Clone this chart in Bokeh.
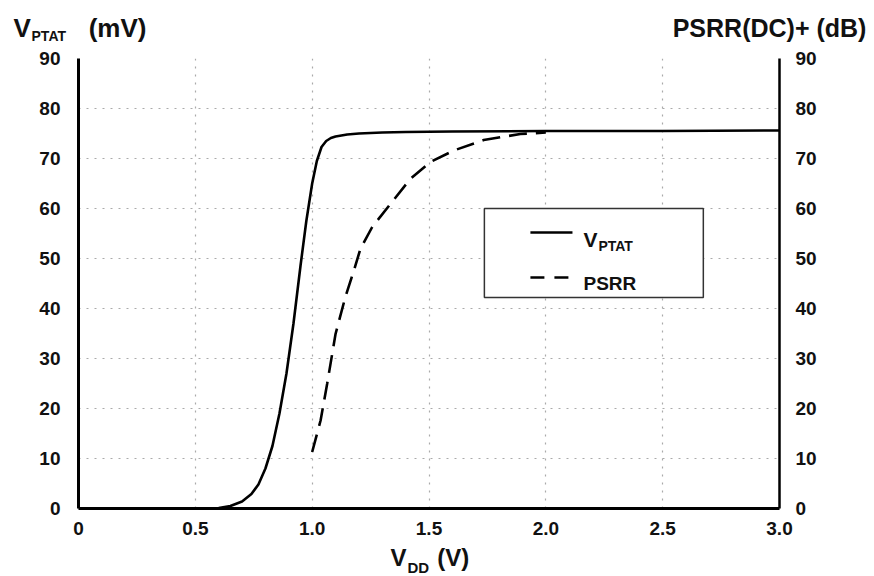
from bokeh.plotting import figure
from bokeh.models import (Range1d, LinearAxis, FixedTicker, Label, BoxAnnotation,
                          CustomJSTickFormatter)
from bokeh.embed import file_html
from bokeh.resources import INLINE

# ---- data ----
vdd_ptat = [0.0, 0.5, 0.6, 0.65, 0.7, 0.74, 0.77, 0.8, 0.83, 0.86, 0.89, 0.92,
            0.95, 0.975, 1.0, 1.02, 1.04, 1.06, 1.08, 1.1, 1.15, 1.2, 1.3, 1.4,
            1.6, 2.0, 2.5, 3.0]
vptat_mv = [0.0, 0.0, 0.1, 0.5, 1.4, 2.9, 4.8, 8.0, 12.5, 19.0, 27.0, 37.0,
            48.5, 57.5, 65.0, 69.5, 72.3, 73.5, 74.1, 74.4, 74.8, 75.0, 75.2, 75.3,
            75.4, 75.5, 75.5, 75.6]

vdd_psrr = [1.0, 1.036, 1.064, 1.1, 1.142, 1.178, 1.207, 1.257, 1.335, 1.42,
            1.506, 1.606, 1.734, 1.891, 2.0]
psrr_db = [11.3, 17.6, 24.9, 34.9, 42.3, 47.5, 52.0, 56.3, 60.9, 65.9,
           69.3, 71.6, 73.7, 74.9, 75.2]

x_ticks = [0, 0.5, 1.0, 1.5, 2.0, 2.5, 3.0]
y_ticks = [0, 10, 20, 30, 40, 50, 60, 70, 80, 90]

FONT = "Liberation Sans"

p = figure(width=874, height=576, output_backend="svg", toolbar_location=None,
           x_range=Range1d(0, 3), y_range=Range1d(0, 90),
           min_border_left=78, min_border_right=95, min_border_top=58,
           min_border_bottom=68, x_axis_location=None, y_axis_location=None)
p.outline_line_color = None
p.background_fill_color = "white"
p.border_fill_color = "white"
p.extra_y_ranges = {"psrr": Range1d(0, 90)}

fmt_x = CustomJSTickFormatter(code="return tick == 0 ? '0' : tick.toFixed(1);")

def style_axis(ax, standoff, lw):
    ax.major_tick_line_color = None
    ax.minor_tick_line_color = None
    ax.axis_line_width = lw
    ax.axis_line_color = "black"
    ax.major_label_text_font = FONT
    ax.major_label_text_font_style = "bold"
    ax.major_label_text_font_size = "19px"
    ax.major_label_text_color = "#111111"
    ax.major_label_standoff = standoff

xaxis = LinearAxis(ticker=FixedTicker(ticks=x_ticks), formatter=fmt_x)
style_axis(xaxis, 7, 3)
p.add_layout(xaxis, "below")

yaxis = LinearAxis(ticker=FixedTicker(ticks=y_ticks))
style_axis(yaxis, 12, 3)
p.add_layout(yaxis, "left")

yaxis2 = LinearAxis(ticker=FixedTicker(ticks=y_ticks), y_range_name="psrr")
style_axis(yaxis2, 10, 2.5)
p.add_layout(yaxis2, "right")

p.xgrid.ticker = FixedTicker(ticks=x_ticks)
p.ygrid.ticker = FixedTicker(ticks=y_ticks)
for g in (p.xgrid, p.ygrid):
    g.grid_line_color = "#aaaaaa"
    g.grid_line_dash = "2 6"
    g.grid_line_width = 1.2

# curves
p.line(vdd_ptat, vptat_mv, line_color="black", line_width=2.6)
p.line(vdd_psrr, psrr_db, line_color="black", line_width=2.6,
       line_dash="18 9", y_range_name="psrr")

# legend box (decoration)
p.add_layout(BoxAnnotation(left=1.737, right=2.674, bottom=42.2, top=60.0,
                           fill_color="white", fill_alpha=1.0,
                           line_color="#333333", line_alpha=1.0,
                           line_width=1.5, level="underlay"))
p.line([1.934, 2.114], [55.2, 55.2], line_color="black", line_width=2.4)
p.line([1.934, 2.105], [46.2, 46.2], line_color="black", line_width=2.4,
       line_dash="14 10")

def lab(x, y, text, size, align="left", place=None):
    l = Label(x=x, y=y, text=text,
              text_font=FONT, text_font_style="bold",
              text_font_size=size, text_color="#111111",
              text_align=align, text_baseline="alphabetic")
    if place:
        p.add_layout(l, place)
    else:
        p.add_layout(l)

# legend texts (inside the frame)
lab(2.161, 53.8, "V", "21px")
lab(2.225, 52.6, "PTAT", "14px")
lab(2.161, 45.0, "PSRR", "19px")

# texts outside the frame live in side panels (spread so they fit the margins)
NB = "\u00a0"
lab(-0.278, 96.2, "V" + NB * 8 + "(mV)", "26px", place="above")
lab(3.372, 96.2, "PSRR(DC)+ (dB)", "25px", align="right", place="above")
lab(-0.201, 94.6, "PTAT", "14px", place="left")

lab(1.335, -9.8, "V", "24px", place="below")
lab(1.408, -11.8, "DD", "15px", place="right")
lab(1.535, -9.8, "(V)", "24px", place="right")

open("out.html", "w").write(file_html(p, INLINE))
